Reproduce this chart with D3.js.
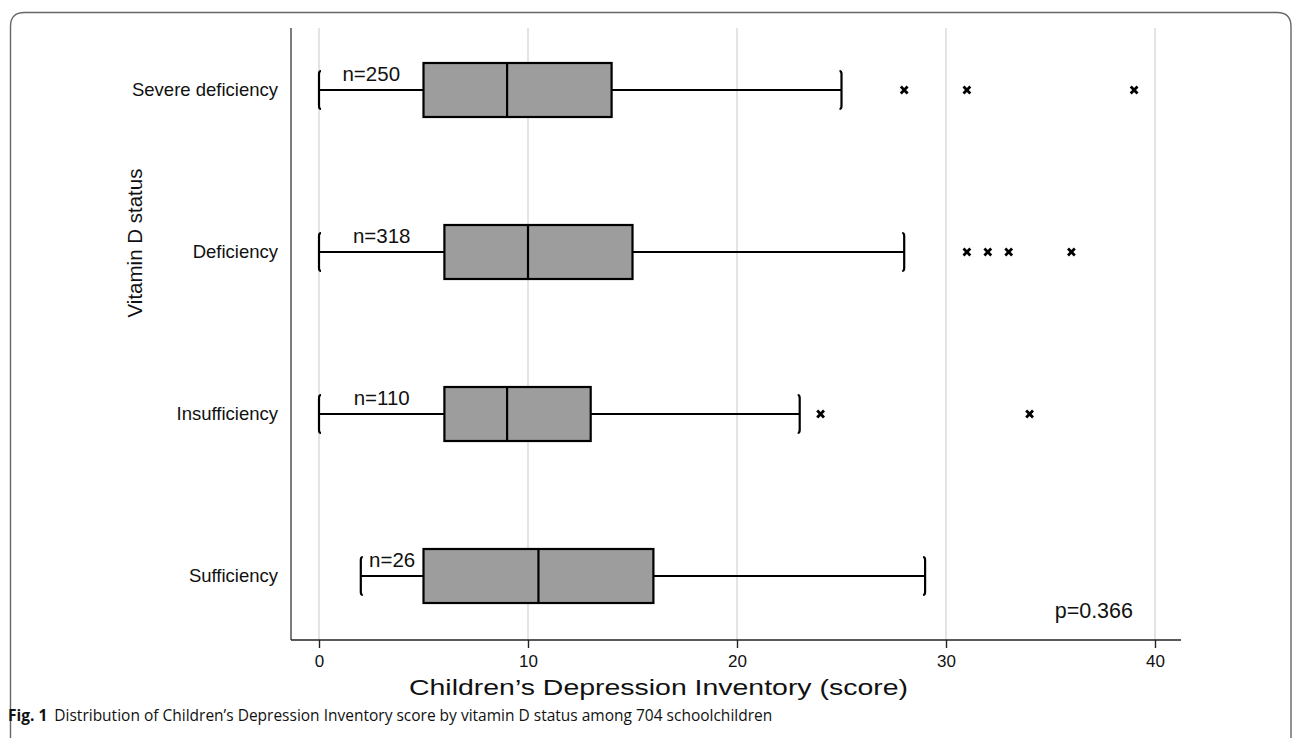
<!DOCTYPE html>
<html>
<head>
<meta charset="utf-8">
<script src="https://cdn.jsdelivr.net/npm/d3@7"></script>
<style>
  body { margin: 0; background: #fff; }
  svg text { font-family: "Liberation Sans", Arial, sans-serif; fill: #111; }
</style>
</head>
<body>
<svg id="chart" width="1293" height="738"></svg>
<script>
// categories, top to bottom
var categories = ['Severe deficiency', 'Deficiency', 'Insufficiency', 'Sufficiency'];
var sampleSizes = ['n=250', 'n=318', 'n=110', 'n=26'];
// box stats: lower whisker, q1, median, q3, upper whisker
var whiskerLow = [0, 0, 0, 2];
var q1 = [5, 6, 6, 5];
var median = [9, 10, 9, 10.5];
var q3 = [14, 15, 13, 16];
var whiskerHigh = [25, 28, 23, 29];
var outliers = [[28, 31, 39], [31, 32, 33, 36], [24, 34], []];
var xTicks = [0, 10, 20, 30, 40];

var svg = d3.select('#chart');

var x = d3.scaleLinear().domain([0, 40]).range([319, 1155]);
var y = d3.scalePoint().domain(categories).range([90, 576]);

var plotTop = 28;
var plotBottom = 640;
var axisLeft = 291;
var axisRight = 1181;
var boxHalf = 27;
var capHalf = 19;

// outer frame (rounded top corners)
var r = 14;
svg.append('path')
  .attr('d', 'M10.5,740 V' + (12.5 + r) + ' Q10.5,12.5 ' + (10.5 + r) + ',12.5 H' + (1291 - r) +
    ' Q1291,12.5 1291,' + (12.5 + r) + ' V740')
  .attr('fill', 'none')
  .attr('stroke', '#666')
  .attr('stroke-width', 1.4);

// gridlines
svg.append('g').selectAll('line')
  .data(xTicks)
  .enter().append('line')
  .attr('x1', function (d) { return x(d); })
  .attr('x2', function (d) { return x(d); })
  .attr('y1', plotTop)
  .attr('y2', plotBottom)
  .attr('stroke', '#e4e4e4')
  .attr('stroke-width', 2);

// axis lines
svg.append('line')
  .attr('x1', axisLeft).attr('x2', axisLeft)
  .attr('y1', plotTop).attr('y2', plotBottom)
  .attr('stroke', '#444').attr('stroke-width', 1.4);

var xAxis = d3.axisBottom(x).tickValues(xTicks).tickSize(8).tickPadding(7);
var gx = svg.append('g')
  .attr('transform', 'translate(0,' + plotBottom + ')')
  .call(xAxis);
gx.select('.domain').remove();
gx.selectAll('.tick line').attr('stroke', '#222').attr('stroke-width', 1.4);
gx.selectAll('.tick text')
  .style('font-family', '"Liberation Sans", Arial, sans-serif')
  .style('font-size', '17px')
  .attr('fill', '#111');
gx.append('line')
  .attr('x1', axisLeft).attr('x2', axisRight)
  .attr('y1', 0).attr('y2', 0)
  .attr('stroke', '#222').attr('stroke-width', 1.4);

// category labels
svg.append('g').selectAll('text')
  .data(categories)
  .enter().append('text')
  .attr('x', 278)
  .attr('y', function (d) { return y(d); })
  .attr('dy', '0.35em')
  .attr('text-anchor', 'end')
  .style('font-size', '18.5px')
  .text(function (d) { return d; });

// axis titles
svg.append('text')
  .attr('x', 409)
  .attr('y', 695)
  .attr('textLength', 499)
  .attr('lengthAdjust', 'spacingAndGlyphs')
  .style('font-size', '21.5px')
  .text('Children\u2019s Depression Inventory (score)');

svg.append('text')
  .attr('transform', 'translate(142,243) rotate(-90)')
  .attr('text-anchor', 'middle')
  .style('font-size', '20.5px')
  .text('Vitamin D status');

// boxes
var groups = svg.append('g').selectAll('g')
  .data(categories)
  .enter().append('g');

// whiskers
groups.append('line')
  .attr('x1', function (d, i) { return x(whiskerLow[i]); })
  .attr('x2', function (d, i) { return x(whiskerHigh[i]); })
  .attr('y1', function (d) { return y(d); })
  .attr('y2', function (d) { return y(d); })
  .attr('stroke', '#000')
  .attr('stroke-width', 2);

function capPath(cx, cy, dir) {
  var h = 2 * dir;
  return 'M' + (cx + h) + ',' + (cy - capHalf) + ' Q' + cx + ',' + (cy - capHalf) + ' ' + cx + ',' + (cy - capHalf + 3) +
    ' V' + (cy + capHalf - 3) + ' Q' + cx + ',' + (cy + capHalf) + ' ' + (cx + h) + ',' + (cy + capHalf);
}

groups.append('path')
  .attr('d', function (d, i) { return capPath(x(whiskerLow[i]), y(d), 1); })
  .attr('fill', 'none').attr('stroke', '#000').attr('stroke-width', 2.2);
groups.append('path')
  .attr('d', function (d, i) { return capPath(x(whiskerHigh[i]), y(d), -1); })
  .attr('fill', 'none').attr('stroke', '#000').attr('stroke-width', 2.2);

groups.append('rect')
  .attr('x', function (d, i) { return x(q1[i]); })
  .attr('width', function (d, i) { return x(q3[i]) - x(q1[i]); })
  .attr('y', function (d) { return y(d) - boxHalf; })
  .attr('height', boxHalf * 2)
  .attr('fill', '#9c9d9c')
  .attr('stroke', '#000')
  .attr('stroke-width', 2.2);

groups.append('line')
  .attr('x1', function (d, i) { return x(median[i]); })
  .attr('x2', function (d, i) { return x(median[i]); })
  .attr('y1', function (d) { return y(d) - boxHalf; })
  .attr('y2', function (d) { return y(d) + boxHalf; })
  .attr('stroke', '#000')
  .attr('stroke-width', 2.2);

// sample size labels
groups.append('text')
  .attr('x', function (d, i) { return (x(whiskerLow[i]) + x(q1[i])) / 2; })
  .attr('y', function (d) { return y(d) - 9; })
  .attr('text-anchor', 'middle')
  .style('font-size', '20.5px')
  .text(function (d, i) { return sampleSizes[i]; });

// outliers
var cross = d3.symbol().type(d3.symbolTimes).size(32);
groups.each(function (d, i) {
  d3.select(this).selectAll('path.outlier')
    .data(outliers[i])
    .enter().append('path')
    .attr('class', 'outlier')
    .attr('transform', function (v) { return 'translate(' + x(v) + ',' + y(d) + ')'; })
    .attr('d', cross)
    .attr('fill', 'none')
    .attr('stroke', '#000')
    .attr('stroke-width', 2.8);
});

// p value
svg.append('text')
  .attr('x', 1133)
  .attr('y', 618)
  .attr('text-anchor', 'end')
  .style('font-size', '21.5px')
  .text('p=0.366');

// caption
var cap = svg.append('text')
  .attr('x', 8)
  .attr('y', 721)
  .style('font-size', '15.5px')
  .style('font-family', '"Open Sans", "Noto Sans", sans-serif');
cap.append('tspan').style('font-weight', 'bold').text('Fig. 1');
cap.append('tspan').attr('dx', 7).text('Distribution of Children\u2019s Depression Inventory score by vitamin D status among 704 schoolchildren');
</script>
</body>
</html>
